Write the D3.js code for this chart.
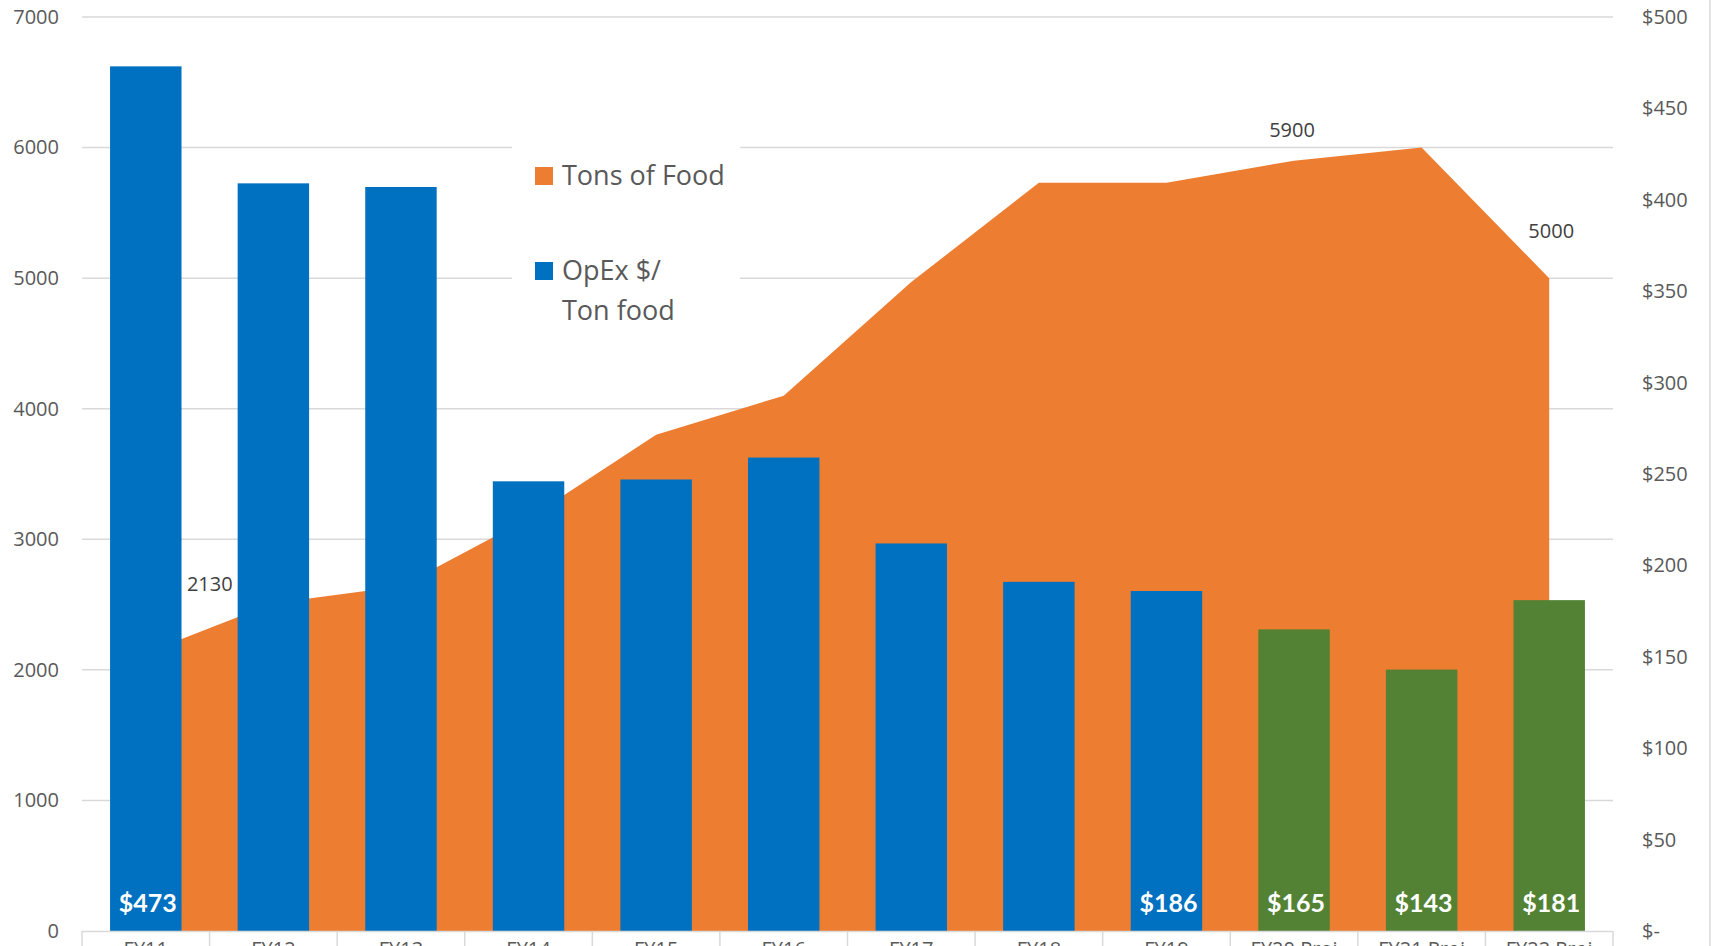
<!DOCTYPE html>
<html>
  <head>
    <meta charset="UTF-8" />
    <title>Tons of Food vs OpEx per Ton</title>
    <script src="https://d3js.org/d3.v7.min.js"></script>
    <style>
      body {
        margin: 0;
        background: #fff;
        overflow: hidden;
      }
      svg text {
        font-family: "Open Sans", sans-serif;
      }
    </style>
  </head>
  <body>
    <div id="chart"></div>
    <script>
      // data
      const categories = [
        "FY11", "FY12", "FY13", "FY14", "FY15", "FY16",
        "FY17", "FY18", "FY19", "FY20 Proj", "FY21 Proj", "FY22 Proj",
      ];
      const tonsOfFood = [2130, 2510, 2640, 3160, 3800, 4100, 4970, 5730, 5730, 5900, 6000, 5000];
      const opexPerTon = [473, 409, 407, 246, 247, 259, 212, 191, 186, 165, 143, 181];
      const tonsTicks = [0, 1000, 2000, 3000, 4000, 5000, 6000, 7000];
      const dollarTicks = [0, 50, 100, 150, 200, 250, 300, 350, 400, 450, 500];
      const tonsLabelIdx = [0, 9, 11];
      const opexLabelIdx = [0, 8, 9, 10, 11];

      const width = 1714;
      const height = 946;
      const margin = { top: 17, right: 101, bottom: 15, left: 82 };
      const plotBottom = height - margin.bottom;

      const orange = "#ED7D31";
      const blue = "#0070C0";
      const green = "#548235";
      const grid = "#D9D9D9";
      const axisText = "#595959";

      const svg = d3
        .select("#chart")
        .append("svg")
        .attr("width", width)
        .attr("height", height);

      const x = d3
        .scaleBand()
        .domain(categories)
        .range([margin.left, width - margin.right])
        .paddingInner(0.44)
        .paddingOuter(0.22);
      const step = x.step();
      const cx = (c) => x(c) + x.bandwidth() / 2;

      const yTons = d3.scaleLinear().domain([0, 7000]).range([plotBottom, margin.top]);
      const yDollar = d3.scaleLinear().domain([0, 500]).range([plotBottom, margin.top]);

      // gridlines
      svg
        .append("g")
        .selectAll("line")
        .data(tonsTicks.slice(1))
        .enter()
        .append("line")
        .attr("x1", margin.left)
        .attr("x2", width - margin.right)
        .attr("y1", (d) => yTons(d))
        .attr("y2", (d) => yTons(d))
        .attr("stroke", grid)
        .attr("stroke-width", 1.5);

      // area: tons of food
      const area = d3
        .area()
        .x((d, i) => cx(categories[i]))
        .y0(plotBottom)
        .y1((d) => yTons(d));
      svg.append("path").datum(tonsOfFood).attr("d", area).attr("fill", orange);

      // bars: opex $/ton
      svg
        .append("g")
        .selectAll("rect")
        .data(opexPerTon)
        .enter()
        .append("rect")
        .attr("x", (d, i) => x(categories[i]))
        .attr("width", x.bandwidth())
        .attr("y", (d) => yDollar(d))
        .attr("height", (d) => plotBottom - yDollar(d))
        .attr("fill", (d, i) => (categories[i].includes("Proj") ? green : blue));

      // bar labels at base
      svg
        .append("g")
        .selectAll("text")
        .data(opexLabelIdx)
        .enter()
        .append("text")
        .attr("x", (i) => cx(categories[i]) + 2)
        .attr("y", plotBottom - 19)
        .attr("text-anchor", "middle")
        .attr("fill", "#fff")
        .style("font-family", "Lato, sans-serif")
        .style("font-weight", "bold")
        .style("font-size", "25px")
        .text((i) => "$" + opexPerTon[i]);

      // area labels (manually placed in the original)
      const tonsLabelOffset = { 0: [64, -62], 9: [-2, -24], 11: [2, -40] };
      svg
        .append("g")
        .selectAll("text")
        .data(tonsLabelIdx)
        .enter()
        .append("text")
        .attr("x", (i) => cx(categories[i]) + tonsLabelOffset[i][0])
        .attr("y", (i) => yTons(tonsOfFood[i]) + tonsLabelOffset[i][1])
        .attr("text-anchor", "middle")
        .attr("fill", "#404040")
        .style("font-size", "20px")
        .text((i) => tonsOfFood[i]);

      // x axis line and category dividers
      svg
        .append("line")
        .attr("x1", margin.left)
        .attr("x2", width - margin.right)
        .attr("y1", plotBottom + 0.5)
        .attr("y2", plotBottom + 0.5)
        .attr("stroke", grid)
        .attr("stroke-width", 1.5);

      const dividers = categories.map((c) => x(c) - (step - x.bandwidth()) / 2);
      dividers.push(width - margin.right);
      svg
        .append("g")
        .selectAll("line")
        .data(dividers)
        .enter()
        .append("line")
        .attr("x1", (d) => d)
        .attr("x2", (d) => d)
        .attr("y1", plotBottom)
        .attr("y2", height)
        .attr("stroke", grid)
        .attr("stroke-width", 1.5);

      // category labels sit below the visible frame, as in the original image
      svg
        .append("g")
        .selectAll("text")
        .data(categories)
        .enter()
        .append("text")
        .attr("x", (d) => cx(d))
        .attr("y", plotBottom + 25)
        .attr("text-anchor", "middle")
        .attr("fill", axisText)
        .style("font-size", "20px")
        .text((d) => d);

      // left axis
      const leftAxis = svg
        .append("g")
        .attr("transform", `translate(${margin.left - 23},0)`)
        .call(
          d3
            .axisLeft(yTons)
            .tickValues(tonsTicks)
            .tickSize(0)
            .tickPadding(0)
            .tickFormat((d) => String(d))
        );
      leftAxis.select(".domain").remove();
      leftAxis
        .selectAll("text")
        .attr("fill", axisText)
        .style("font-size", "20px")
        .style("font-family", "'Open Sans', sans-serif");

      // right axis
      const rightAxis = svg
        .append("g")
        .attr("transform", `translate(${width - margin.right + 29},0)`)
        .call(
          d3
            .axisRight(yDollar)
            .tickValues(dollarTicks)
            .tickSize(0)
            .tickPadding(0)
            .tickFormat((d) => (d === 0 ? "$-" : "$" + d))
        );
      rightAxis.select(".domain").remove();
      rightAxis
        .selectAll("text")
        .attr("fill", axisText)
        .style("font-size", "20px")
        .style("font-family", "'Open Sans', sans-serif");

      // chart border on right
      svg
        .append("line")
        .attr("x1", 1710)
        .attr("x2", 1710)
        .attr("y1", 0)
        .attr("y2", height)
        .attr("stroke", grid)
        .attr("stroke-width", 1.5);

      // legend
      const legend = svg.append("g").attr("transform", "translate(512,145)");
      legend.append("rect").attr("width", 228).attr("height", 190).attr("fill", "#fff");

      const legendItems = [
        { color: orange, lines: ["Tons of Food"] },
        { color: blue, lines: ["OpEx $/", "Ton food"] },
      ];
      legendItems.forEach((item, k) => {
        const g = legend.append("g").attr("transform", `translate(0,${k * 95})`);
        g.append("rect")
          .attr("x", 23)
          .attr("y", 22)
          .attr("width", 18)
          .attr("height", 18)
          .attr("fill", item.color);
        item.lines.forEach((line, j) => {
          g.append("text")
            .attr("x", 50)
            .attr("y", 40 + j * 40)
            .attr("fill", axisText)
            .style("font-size", "27px")
            .text(line);
        });
      });
    </script>
  </body>
</html>
